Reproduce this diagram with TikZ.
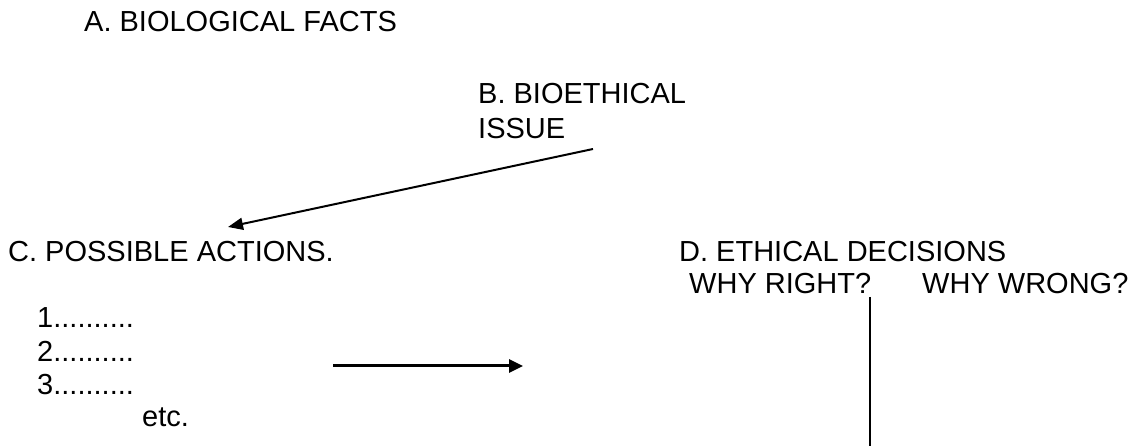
\documentclass[tikz,border=0pt]{standalone}
\usepackage{fontspec}
\setmainfont{Liberation Sans}
\usetikzlibrary{arrows.meta}

\begin{document}
\begin{tikzpicture}[x=1pt,y=1pt, every node/.style={inner sep=0pt}]
\tikzset{lbl/.style={anchor=base west, align=left, font=\fontsize{29}{35}\selectfont, text=black}}
\definecolor{ec}{HTML}{000000}
\useasboundingbox (0pt,0pt) rectangle (1136pt,446pt);
\node[lbl] (facts) at (84pt,414pt) {A. BIOLOGICAL FACTS};
\node[lbl] (issue) at (478pt,307pt) {B. BIOETHICAL\\ISSUE};
\node[lbl] (actions) at (8pt,184pt) {C. POSSIBLE ACTIONS.};
\node[lbl] (decisions) at (679pt,184pt) {D. ETHICAL DECISIONS};
\node[lbl] (right) at (689pt,152pt) {WHY RIGHT?};
\node[lbl] (wrong) at (922pt,152pt) {WHY WRONG?};
\node[lbl] (act1) at (37pt,118pt) {1..........};
\node[lbl] (act2) at (37pt,84pt) {2..........};
\node[lbl] (act3) at (37pt,51pt) {3..........};
\node[lbl] (etc) at (142pt,19pt) {etc.};
\coordinate (issueout) at (593pt,297pt);
\coordinate (actionsin) at (228pt,219pt);
\coordinate (listout) at (333pt,80pt);
\coordinate (decisionsin) at (523pt,80pt);
\coordinate (splittop) at (870pt,149pt);
\coordinate (splitbot) at (870pt,0pt);
\draw[draw=ec, line width=2pt, -{Triangle[length=15pt,width=12pt]}] (issueout) -- (actionsin);
\draw[draw=ec, line width=3pt, -{Triangle[length=14pt,width=13pt]}] (listout) -- (decisionsin);
\draw[draw=ec, line width=1.6pt] (splittop) -- (splitbot);
\end{tikzpicture}
\end{document}
